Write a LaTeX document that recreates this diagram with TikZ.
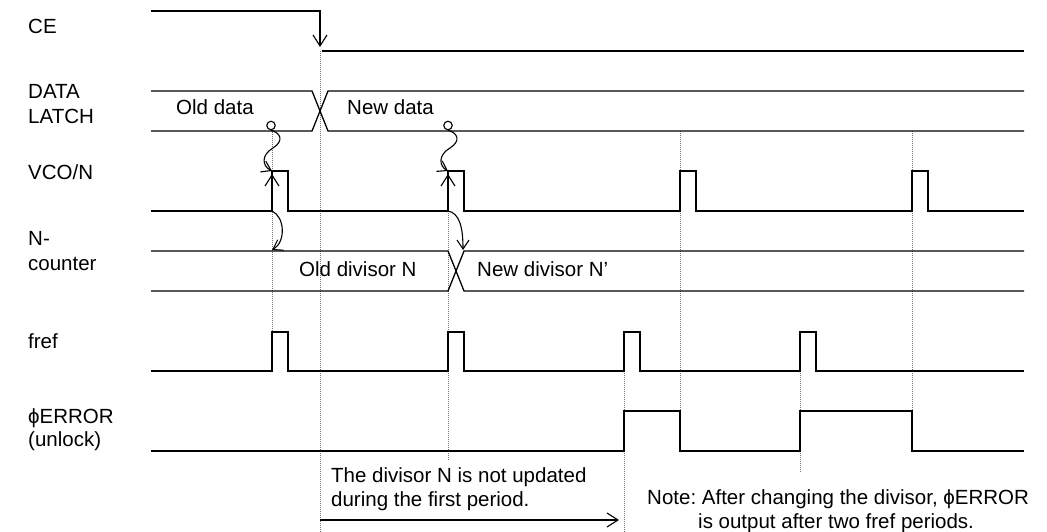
\documentclass[tikz,border=0pt]{standalone}
\usepackage{fontspec}
\setmainfont{Liberation Sans}
\usetikzlibrary{arrows.meta}
\newcommand\lab{\fontsize{20.5}{24.6}\selectfont}
\frenchspacing
\begin{document}
\begin{tikzpicture}[x=1pt,y=-1pt,
  sig/.style={line width=1.3pt, line join=miter},
  guide/.style={black!55, line width=0.9pt, dash pattern=on 1pt off 1pt},
  txt/.style={anchor=base west, inner sep=0pt, font=\lab},
  barb/.style={-{Straight Barb[length=11pt,width=14pt,line width=1.1pt]}},
  sbarb/.style={-{Straight Barb[length=9pt,width=12pt,line width=1.1pt]}},
  ring/.style={circle, draw, line width=1.1pt, minimum size=8.5pt, inner sep=0pt}]
\useasboundingbox (0,0) rectangle (1047,532);
% guide lines
\draw[guide] (272,130) -- (272,332);
\draw[guide] (320,51) -- (320,532);
\draw[guide] (448,211) -- (448,460);
\draw[guide] (624,371) -- (624,532);
\draw[guide] (680,131) -- (680,411);
\draw[guide] (800,371) -- (800,473);
\draw[guide] (912,131) -- (912,411);
% CE
\draw[sig,barb] (151,11) -- (320,11) -- (320,47);
\draw[sig] (322,51) -- (1024,51);
% DATA LATCH
\draw[sig] (151,91) -- (312,91) -- (328,131) -- (1024,131);
\draw[sig] (151,131) -- (312,131) -- (328,91) -- (1024,91);
% VCO/N
\draw[sig] (151,211) -- (272,211) -- (272,171) -- (288,171) -- (288,211)
  -- (448,211) -- (448,171) -- (464,171) -- (464,211)
  -- (680,211) -- (680,171) -- (696,171) -- (696,211)
  -- (912,211) -- (912,171) -- (928,171) -- (928,211) -- (1024,211);
% N-counter
\draw[sig] (151,251) -- (448,251) -- (464,291) -- (1024,291);
\draw[sig] (151,291) -- (448,291) -- (464,251) -- (1024,251);
% fref
\draw[sig] (151,371) -- (272,371) -- (272,332) -- (288,332) -- (288,371)
  -- (448,371) -- (448,332) -- (464,332) -- (464,371)
  -- (624,371) -- (624,332) -- (640,332) -- (640,371)
  -- (800,371) -- (800,332) -- (816,332) -- (816,371) -- (1024,371);
% phi ERROR
\draw[sig] (151,451) -- (624,451) -- (624,411) -- (680,411) -- (680,451)
  -- (800,451) -- (800,411) -- (912,411) -- (912,451) -- (1024,451);
% latch markers and causal arrows
\node[ring] (c1) at (271,125.5) {};
\node[ring] (c2) at (448,125.5) {};
\coordinate (v1) at (272,171);
\coordinate (v1a) at (272,174);
\coordinate (v1b) at (272,211);
\coordinate (n1) at (272,250);
\coordinate (v2) at (448,171);
\coordinate (v2a) at (448,174);
\coordinate (v2b) at (448,211);
\coordinate (n2) at (463,250);
\draw[line width=1.1pt,sbarb] (c1.south) .. controls (281,133) and (284,141) .. (273,148)
  .. controls (261,155) and (262,166) .. (v1);
\draw[line width=1.1pt,sbarb] (c2.south) .. controls (458,133) and (461,141) .. (450,148)
  .. controls (438,155) and (439,166) .. (v2);
\draw[line width=1.1pt,barb] (v1b) -- (v1a);
\draw[line width=1.1pt,barb] (v2b) -- (v2a);
\draw[line width=1.1pt,sbarb] (v1b) .. controls (285,217) and (286,242) .. (n1);
\draw[line width=1.1pt,sbarb] (v2b) .. controls (459,213) and (463,226) .. (n2);
% period arrow
\coordinate (p0) at (320,520);
\coordinate (p1) at (619,520);
\draw[line width=1.1pt,barb] (p0) -- (p1);
% labels
\node[txt] (lce) at (28,34) {CE};
\node[txt] (ld1) at (28,99) {DATA};
\node[txt] (ld2) at (28,124) {LATCH};
\node[txt] (lvco) at (28,179) {VCO/N};
\node[txt] (ln1) at (28,245) {N-};
\node[txt] (ln2) at (28,270) {counter};
\node[txt] (lfr) at (28,348) {fref};
\node[txt] (le1) at (28,423) {ϕERROR};
\node[txt] (le2) at (28,446) {(unlock)};
\node[txt] (told) at (176,115) {Old data};
\node[txt] (tnew) at (347,115) {New data};
\node[txt] (tod) at (299,276) {Old divisor N};
\node[txt] (tnd) at (477,276) {New divisor N’};
\node[txt] (tb1) at (331,482) {The divisor N is not updated};
\node[txt] (tb2) at (331,506) {during the first period.};
\node[txt] (tn1) at (647,504) {Note: After changing the divisor, ϕERROR};
\node[txt] (tn2) at (698,528) {is output after two fref periods.};
\end{tikzpicture}
\end{document}
